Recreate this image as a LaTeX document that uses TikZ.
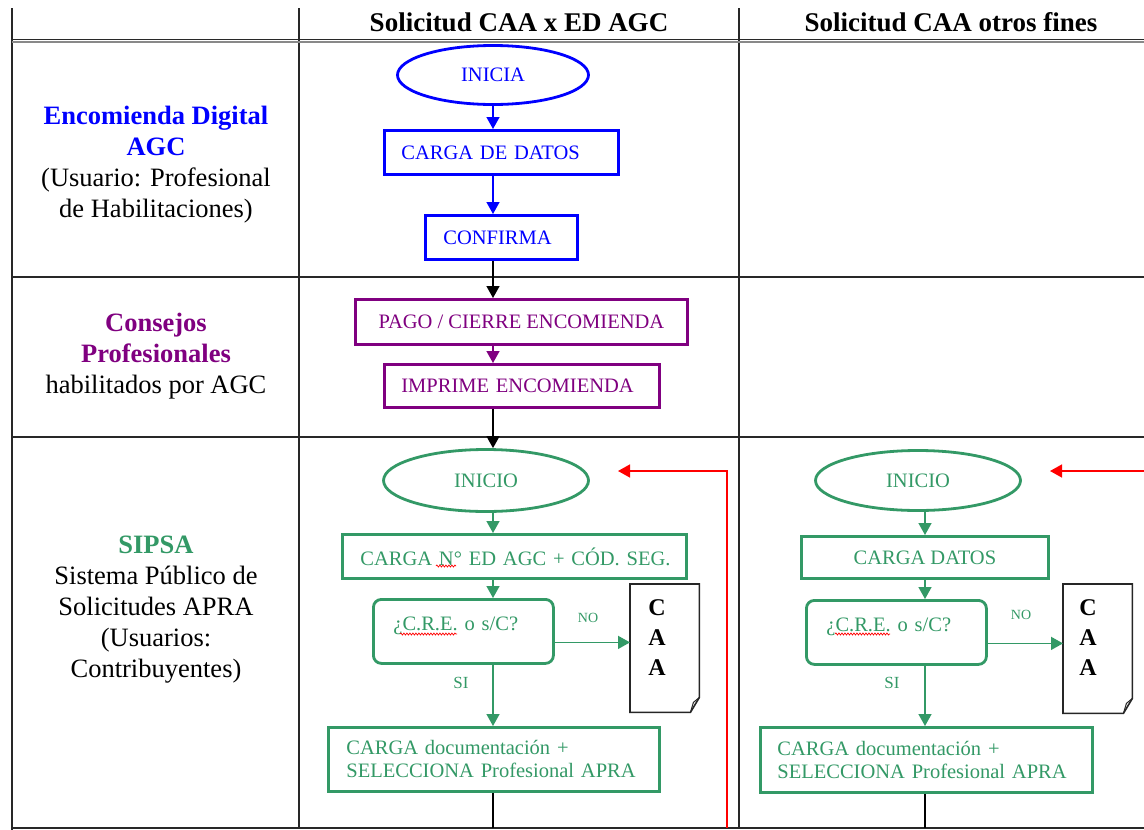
\documentclass[tikz,border=0pt]{standalone}
\usepackage{fontspec}
\setmainfont{Liberation Serif}
\usetikzlibrary{arrows.meta,shapes.geometric,decorations.pathmorphing}
\definecolor{cblue}{RGB}{0,0,255}
\definecolor{cpurp}{RGB}{128,0,128}
\definecolor{cgreen}{RGB}{51,153,102}
\definecolor{cgrid}{RGB}{40,40,40}
\begin{document}
\begin{tikzpicture}[x=1pt,y=-1pt,
  gridline/.style={cgrid,line width=1.6pt},
  hdr/.style={font=\fontsize{27}{30}\selectfont\bfseries,inner sep=0pt},
  lane/.style={align=center,font=\fontsize{26.5}{31}\selectfont,inner sep=0pt},
  box/.style={draw,line width=2.8pt,minimum height=44pt,inner ysep=0pt,font=\fontsize{20.5}{23}\selectfont},
  lbox/.style={box,align=left},
  ell/.style={draw,ellipse,line width=2.8pt,inner sep=0pt,font=\fontsize{20.5}{23}\selectfont},
  dec/.style={draw,cgreen,line width=2.8pt,rounded corners=8pt,align=left,anchor=north west,
    inner xsep=20pt,text width=140pt,inner ysep=10pt,text height=21pt,text depth=23pt,
    font=\fontsize{20.5}{23}\selectfont},
  conn/.style={line width=1.5pt,-{Triangle[length=12pt,width=13pt]}},
  plain/.style={line width=1.5pt},
  docshape/.style={minimum width=69pt,minimum height=128pt,inner sep=0pt,anchor=north west},
  docline/.style={black!85,line width=1.6pt,line join=miter},
  caatext/.style={font=\bfseries\fontsize{24}{30}\selectfont,align=center,inner sep=0pt},
  nolbl/.style={cgreen,font=\fontsize{14}{16}\selectfont,inner sep=0pt},
  silbl/.style={cgreen,font=\fontsize{17}{19}\selectfont,inner sep=0pt},
  spell/.style={red,line width=0.7pt,decorate,decoration={snake,amplitude=1pt,segment length=3pt}}
]
\fill[white] (0,0) rectangle (1144,830);
\useasboundingbox (0,0) rectangle (1144,830);

% grid
\draw[gridline] (12,8) -- (12,830);
\draw[gridline] (299,8) -- (299,828);
\draw[gridline] (739,8) -- (739,828);
\draw[cgrid,line width=1.3pt] (12,39.5) -- (1144,39.5);
\draw[cgrid!55,line width=1.3pt] (12,42) -- (1144,42);
\draw[gridline] (12,277) -- (1144,277);
\draw[gridline] (12,437) -- (1144,437);
\draw[gridline] (12,828) -- (1144,828);

% headers
\node[hdr] (h1) at (519,22) {Solicitud CAA x ED AGC};
\node[hdr] (h2) at (951,22) {Solicitud CAA otros fines};

% lane labels
\node[lane] (l1) at (156,165) {\textcolor{cblue}{\textbf{Encomienda Digital}}\\\textcolor{cblue}{\textbf{AGC}}\\(Usuario: Profesional\\de Habilitaciones)};
\node[lane] (l2) at (156,356) {\textcolor{cpurp}{\textbf{Consejos}}\\\textcolor{cpurp}{\textbf{Profesionales}}\\habilitados por AGC};
\node[lane] (l3) at (156,610) {\textcolor{cgreen}{\textbf{SIPSA}}\\Sistema Público de\\Solicitudes APRA\\(Usuarios:\\Contribuyentes)};

% column 1
\node[ell,cblue,minimum width=191pt,minimum height=59pt] (inicia) at (493,75) {INICIA};
\node[lbox,cblue,anchor=north west,inner xsep=17pt,text width=200pt] (carga1) at (383,129) {CARGA DE DATOS};
\node[lbox,cblue,anchor=north west,inner xsep=18pt,text width=116pt] (conf) at (424,214) {CONFIRMA};
\node[box,cpurp,anchor=north west,minimum width=332pt,minimum height=45pt] (pago) at (354,298) {PAGO / CIERRE ENCOMIENDA};
\node[lbox,cpurp,anchor=north west,inner xsep=17pt,text width=241pt,minimum height=43pt] (impr) at (383,363) {IMPRIME ENCOMIENDA};
\node[ell,cgreen,minimum width=205pt,minimum height=62pt] (ini1) at (486,480.5) {INICIO};
\node[lbox,cgreen,anchor=north west,inner xsep=18pt,text width=308pt] (cn) at (341,533) {\mbox{CARGA N\textdegree{} ED AGC + CÓD. SEG.}};
\node[dec] (dec1) at (372,598) {¿C.R.E. o s/C?};
\node[lbox,cgreen,anchor=north west,inner xsep=18pt,text width=295pt,minimum height=64pt] (doc1) at (327,726) {CARGA documentación +\\SELECCIONA Profesional APRA};
\node[docshape] (caa1) at (630,584) {};
\draw[docline] (caa1.north west) -- (caa1.north east) -- ([yshift=15pt]caa1.south east) -- ([xshift=-9pt]caa1.south east) -- (caa1.south west) -- cycle;
\draw[docline,line width=1pt] ([yshift=15pt]caa1.south east) -- ([xshift=-6pt,yshift=10pt]caa1.south east) -- ([xshift=-9pt]caa1.south east);
\node[caatext] (caa1t) at (657,638) {C\\A\\A};
\node[nolbl] (no1) at (588,618) {NO};
\node[silbl] (si1) at (461,683) {SI};
\coordinate (bot1) at (493,828);
\coordinate (r1s) at (727,828);
\coordinate (r1e) at (618,471);

\draw[conn,cblue] (inicia.south) -- (carga1.north -| inicia.south);
\draw[conn,cblue] (carga1.south -| inicia) -- (conf.north -| inicia);
\draw[conn,black] (conf.south -| inicia) -- (pago.north -| inicia);
\draw[conn,cpurp] (pago.south -| inicia) -- (impr.north -| inicia);
\draw[conn,black] (impr.south -| inicia) -- (ini1.north -| inicia);
\draw[conn,cgreen] (ini1.south -| inicia) -- (cn.north -| inicia);
\draw[conn,cgreen] (cn.south -| inicia) -- (dec1.north -| inicia);
\draw[conn,cgreen] (dec1.south -| inicia) -- (doc1.north -| inicia);
\draw[conn,cgreen] ([yshift=-11pt]dec1.east) -- ([yshift=-11pt]dec1.east -| caa1.west);
\draw[plain,black] (doc1.south -| bot1) -- (bot1);
\draw[conn,red] (r1s) |- (r1e);
\draw[spell] (436,566) -- (456,566);
\draw[spell] (400,634) -- (457,634);

% column 2
\coordinate (ax2) at (925,480);
\node[ell,cgreen,minimum width=205pt,minimum height=60pt] (ini2) at (918,480.5) {INICIO};
\node[box,cgreen,anchor=north west,minimum width=247pt,minimum height=42pt] (cd2) at (800,535) {CARGA DATOS};
\node[dec] (dec2) at (805,599) {¿C.R.E. o s/C?};
\node[lbox,cgreen,anchor=north west,inner xsep=17pt,text width=298pt,minimum height=65pt] (doc2) at (759,726) {CARGA documentación +\\SELECCIONA Profesional APRA};
\node[docshape,minimum height=129pt] (caa2) at (1063,584) {};
\draw[docline] (caa2.north west) -- (caa2.north east) -- ([yshift=15pt]caa2.south east) -- ([xshift=-9pt]caa2.south east) -- (caa2.south west) -- cycle;
\draw[docline,line width=1pt] ([yshift=15pt]caa2.south east) -- ([xshift=-6pt,yshift=10pt]caa2.south east) -- ([xshift=-9pt]caa2.south east);
\node[caatext] (caa2t) at (1088,638) {C\\A\\A};
\node[nolbl] (no2) at (1021,615) {NO};
\node[silbl] (si2) at (892,683) {SI};
\coordinate (bot2) at (925,828);
\coordinate (r2s) at (1144,471);
\coordinate (r2e) at (1050,471);

\draw[conn,cgreen] (ini2.south -| ax2) -- (cd2.north -| ax2);
\draw[conn,cgreen] (cd2.south -| ax2) -- (dec2.north -| ax2);
\draw[conn,cgreen] (dec2.south -| ax2) -- (doc2.north -| ax2);
\draw[conn,cgreen] ([yshift=-11pt]dec2.east) -- ([yshift=-11pt]dec2.east -| caa2.west);
\draw[plain,black] (doc2.south -| bot2) -- (bot2);
\draw[conn,red] (r2s) -- (r2e);
\draw[spell] (835,634) -- (890,634);
\end{tikzpicture}
\end{document}
